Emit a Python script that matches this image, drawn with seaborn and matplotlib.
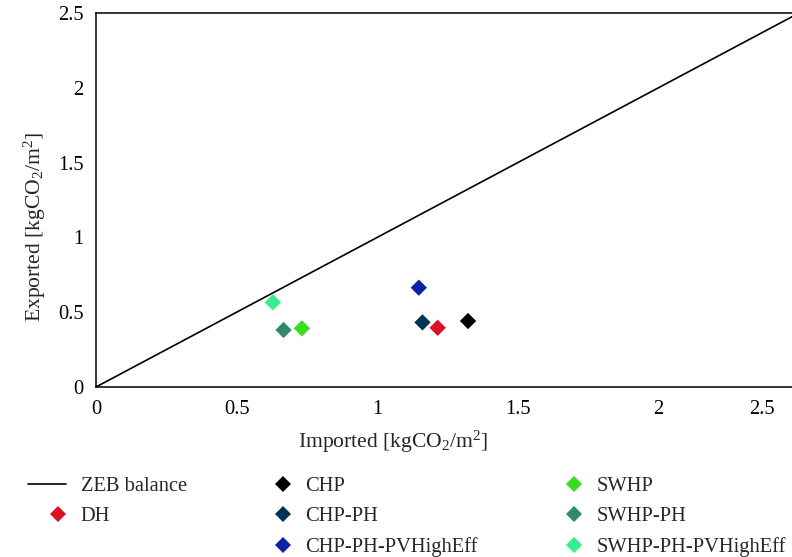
import matplotlib
matplotlib.use("Agg")
import matplotlib.pyplot as plt
from matplotlib.lines import Line2D
from matplotlib.legend_handler import HandlerLine2D
from matplotlib.transforms import ScaledTranslation
import pandas as pd
import seaborn as sns

# Datos
# ==============================================================================
systems = ["DH", "CHP", "CHP-PH", "CHP-PH-PVHighEff",
           "SWHP", "SWHP-PH", "SWHP-PH-PVHighEff"]
imported = [1.215, 1.323, 1.161, 1.148, 0.732, 0.667, 0.629]
exported = [0.396, 0.441, 0.432, 0.664, 0.392, 0.381, 0.566]
colors = ["#DD1122", "#000000", "#003355", "#0A22AA",
          "#33E01A", "#2E8B64", "#33F088"]

balance_x = [0, 2.5]
balance_y = [0, 2.5]

x_ticks = [0, 0.5, 1, 1.5, 2, 2.5]
y_ticks = [0, 0.5, 1, 1.5, 2, 2.5]

datos = pd.DataFrame({"system": systems, "imported": imported, "exported": exported})
palette = dict(zip(systems, colors))

# Estilo
# ==============================================================================
sns.set_style("white")
plt.rcParams['font.family'] = ['Liberation Serif', 'DejaVu Serif']
plt.rcParams['mathtext.fontset'] = 'custom'
plt.rcParams['mathtext.rm'] = 'Liberation Serif'
plt.rcParams['mathtext.it'] = 'Liberation Serif:italic'
FS = 14.8
FS_LAB = 15.6
MS = 8.3

fig = plt.figure(figsize=(7.92, 5.57), dpi=100)
ax = fig.add_axes([96/792, 1 - 387/557, 703/792, 374/557])

sns.lineplot(x=balance_x, y=balance_y, color="black", lw=1.2, ax=ax)
sns.scatterplot(data=datos, x="imported", y="exported", hue="system",
                palette=palette, marker="D", s=MS**2, linewidth=0,
                legend=False, ax=ax, zorder=3)

ax.set_xlim(0, 2.5)
ax.set_ylim(0, 2.5)
ax.set_xticks(x_ticks)
ax.set_yticks(y_ticks)
ax.set_xticklabels([f"{t:g}" for t in x_ticks])
ax.set_yticklabels([f"{t:g}" for t in y_ticks])
ax.tick_params(length=0, labelsize=FS, colors="black")
ax.tick_params(axis="x", pad=9)
ax.tick_params(axis="y", pad=9)
for sp in ax.spines.values():
    sp.set_color("black")
    sp.set_linewidth(1.1)

# ultimo label del eje x desplazado hacia dentro
last = ax.get_xticklabels()[-1]
last.set_transform(last.get_transform() + ScaledTranslation(-0.37, 0, fig.dpi_scale_trans))

ax.set_xlabel("Imported [kgCO$_2$/m$^2$]", fontsize=FS_LAB)
ax.set_ylabel("Exported [kgCO$_2$/m$^2$]", fontsize=FS_LAB)
ax.xaxis.label.set_va("center")
ax.yaxis.label.set_va("center")
ax.xaxis.set_label_coords(393/792, 1 - 442/557, transform=fig.transFigure)
ax.yaxis.set_label_coords(35/792, 1 - 227/557, transform=fig.transFigure)


# Leyenda
# ==============================================================================
class MarkerRight(HandlerLine2D):
    # marcador desplazado a la derecha del hueco del handle
    def get_xdata(self, legend, xdescent, ydescent, width, height, fontsize):
        xdata, xm = super().get_xdata(legend, xdescent, ydescent, width, height, fontsize)
        return [-xdescent + 0.58 * width, -xdescent + width], xm


def mk(name):
    return Line2D([], [], marker="D", linestyle="none", markersize=MS,
                  markeredgewidth=0, color=palette[name], label=name)


zeb = Line2D([], [], color="black", lw=1.2, label="ZEB balance")
blank = Line2D([], [], linestyle="none", label=" ")
order = ["DH", None, "CHP", "CHP-PH", "CHP-PH-PVHighEff",
         "SWHP", "SWHP-PH", "SWHP-PH-PVHighEff"]
handles = [zeb] + [mk(n) if n else blank for n in order]
labels = [h.get_label() for h in handles]
handler = MarkerRight()
fig.legend(handles, labels, ncol=3, loc="upper left",
           bbox_to_anchor=(28/792, 1 - 477/557), bbox_transform=fig.transFigure,
           frameon=False, fontsize=FS, borderpad=0, borderaxespad=0,
           handlelength=1.85, handletextpad=0.72, columnspacing=3.2,
           labelspacing=0.52,
           handler_map={h: handler for h in handles[1:]})

plt.savefig("out.png", dpi=100)
